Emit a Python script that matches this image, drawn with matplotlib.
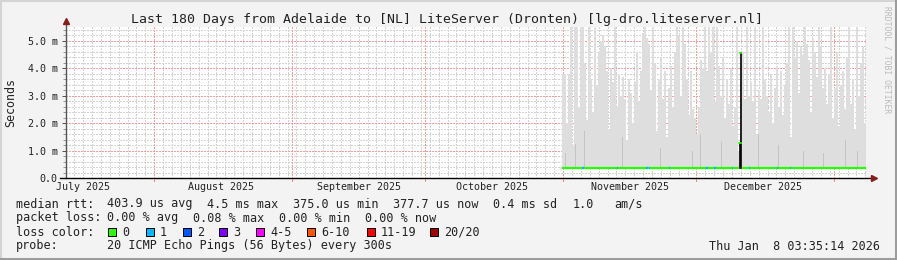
import numpy as np
import matplotlib
matplotlib.use('Agg')
from matplotlib import pyplot as plt
from matplotlib.lines import Line2D
from matplotlib.patches import Rectangle

plt.rcParams['font.family'] = ['DejaVu Sans Mono']

TITLE = 'Last 180 Days from Adelaide to [NL] LiteServer (Dronten) [lg-dro.liteserver.nl]'

# x is in days since 2025-07-01 00:00, y in milliseconds
view_start = 11.15
view_end = 191.15
month_starts = [31, 62, 92, 123, 153, 184]
month_label_days = [15, 46, 77, 107, 138, 168]
month_labels = ['July 2025', 'August 2025', 'September 2025', 'October 2025',
                'November 2025', 'December 2025']

y_max = 5.51
y_ticks = [0, 1, 2, 3, 4, 5]
y_tick_labels = ['0.0', '1.0 m', '2.0 m', '3.0 m', '4.0 m', '5.0 m']

# smoke (max ping per column)
smoke_start = 122.8
smoke_step = 0.45
smoke_floor_ms = 0.36
smoke_top_ms = [
    3.8, 3.8, 2.0, 3.8, 5.5, 1.2, 5.5, 5.5, 2.6, 5.5,
    5.5, 4.2, 2.1, 5.5, 3.6, 2.4, 5.5, 3.4, 4.6, 5.0,
    5.2, 4.8, 3.9, 1.8, 4.0, 3.5, 5.5, 2.6, 3.8, 3.0,
    3.7, 2.9, 1.4, 3.6, 3.1, 2.0, 3.5, 4.6, 2.8, 3.9,
    5.3, 5.5, 5.1, 4.9, 3.2, 5.5, 4.2, 1.7, 3.6, 4.4,
    2.9, 3.9, 1.5, 3.3, 4.1, 2.6, 4.6, 5.5, 5.2, 3.0,
    5.5, 4.9, 3.6, 2.3, 3.9, 2.5, 2.2, 1.6, 2.6, 4.3,
    4.0, 5.5, 3.9, 5.5, 4.6, 5.5, 2.8, 5.5, 4.1, 3.0,
    4.4, 2.2, 3.6, 2.7, 4.0, 1.9, 2.6, 5.5, 1.0, 3.5,
    4.6, 2.9, 5.5, 3.0, 3.5, 2.8, 5.5, 1.6, 3.2, 2.9,
    5.5, 3.6, 3.0, 2.4, 3.8, 2.0, 3.3, 4.1, 2.6, 3.9,
    2.3, 3.4, 4.2, 5.5, 1.5, 5.5, 4.4, 5.0, 3.1, 4.8,
    4.5, 5.5, 4.9, 4.3, 2.4, 5.1, 4.6, 3.7, 5.5, 4.8,
    3.3, 4.0, 2.7, 3.8, 5.5, 2.2, 3.3, 4.6, 1.9, 3.4,
    3.9, 2.5, 4.4, 5.5, 2.7, 3.6, 1.8, 5.5, 3.0, 4.2,
    4.8, 2.0,
]
dense_smoke_days = [123.5, 125.7, 127.8, 136.3, 144.9, 152.1, 153.9,
                    158.6, 166.9, 171.4, 177.0, 181.5, 186.5, 189.2]
dense_smoke_ms = [0.9, 1.25, 1.7, 1.5, 1.1, 1.0, 1.6,
                  1.3, 1.6, 1.2, 1.0, 0.9, 1.4, 1.0]

median_ms = 0.38
loss1_days = [127.5, 135.2, 141.9, 142.4, 146.9, 155.4, 157.2,
              161.1, 164.9, 171.2, 174.1]
spike_days = [162.8, 162.95]
spike_ms = [1.28, 4.56]

loss_labels = ['0', '1', '2', '3', '4-5', '6-10', '11-19', '20/20']
loss_colors = ['#26ff00', '#00b8ff', '#0059ff', '#7e00ff', '#ff00fe',
               '#ff5500', '#ff0000', '#a10000']
loss_box_px = [108, 146, 183, 219, 256, 307, 367, 430]

row1 = [(16, 'median rtt:'), (107, '403.9 us avg'), (207, '4.5 ms max'),
        (293, '375.0 us min'), (393, '377.7 us now'), (493, '0.4 ms sd'),
        (573, '1.0'), (614, 'am/s')]
row2 = [(16, 'packet loss:'), (107, '0.00 % avg'), (193, '0.08 % max'),
        (279, '0.00 % min'), (365, '0.00 % now')]
row4 = [(16, 'probe:'), (107, '20 ICMP Echo Pings (56 Bytes) every 300s')]
stamp = 'Thu Jan  8 03:35:14 2026'

W, H = 897, 260
fig = plt.figure(figsize=(W / 100, H / 100), dpi=100)
fig.patch.set_facecolor('#f3f3f3')

ax_l, ax_r, ax_t, ax_b = 66, 866, 27, 178
ax = fig.add_axes([ax_l / W, 1 - ax_b / H, (ax_r - ax_l) / W, (ax_b - ax_t) / H])
ax.set_facecolor('white')
ax.set_xlim(view_start, view_end)
ax.set_ylim(0, y_max)
for s in ax.spines.values():
    s.set_visible(False)

dot = (0, (1.4, 1.4))
# minor grid
for d in np.arange(13, view_end, 2):
    ax.axvline(d, color='#d4d4d4', lw=0.72, ls=dot, antialiased=False, zorder=1)
for v in np.arange(0.2, y_max, 0.2):
    ax.axhline(v, color='#d4d4d4', lw=0.72, ls=dot, antialiased=False, zorder=1)
# major grid
for d in month_starts:
    ax.axvline(d, color='#f4a0a0', lw=0.72, ls=dot, antialiased=False, zorder=1.5)
for v in y_ticks[1:]:
    ax.axhline(v, color='#f4a0a0', lw=0.72, ls=dot, antialiased=False, zorder=1.5)

# smoke
edges = smoke_start + smoke_step * np.arange(len(smoke_top_ms) + 1)
ax.stairs(smoke_top_ms, edges, baseline=smoke_floor_ms, fill=True,
          color='#dedede', lw=0, zorder=2)
ax.bar(dense_smoke_days, np.array(dense_smoke_ms) - smoke_floor_ms,
       bottom=smoke_floor_ms, width=0.25, color='#c4c4c4', lw=0, zorder=2.1)

# median line coloured by loss
ax.plot([smoke_start, view_end], [median_ms, median_ms], color=loss_colors[0],
        lw=1.6, solid_capstyle='butt', zorder=3)
for d in loss1_days:
    ax.plot([d - 0.15, d + 0.15], [median_ms, median_ms], color=loss_colors[1],
            lw=1.6, solid_capstyle='butt', zorder=3.1)
for d, v in zip(spike_days, spike_ms):
    ax.plot([d, d], [median_ms, v], color='black', lw=1.2, zorder=3.2)
    ax.plot([d - 0.12, d + 0.12], [v, v], color=loss_colors[0], lw=1.2, zorder=3.3)

# ticks
ax.set_yticks(y_ticks, y_tick_labels)
ax.set_yticks(np.arange(0.2, y_max, 0.2), minor=True)
ax.tick_params(axis='y', which='major', length=3, width=0.72, color='#555555',
               pad=3, labelsize=7.2, labelcolor='#222222')
ax.tick_params(axis='y', which='minor', length=2, width=0.72, color='#999999')
ax.set_xticks(month_label_days, month_labels)
ax.set_xticks([], minor=True)
ax.tick_params(axis='x', which='major', length=0, pad=3, labelsize=7.2,
               labelcolor='#222222')
for d in month_starts:
    ax.plot([d, d], [0, -2.5 / 27.4], color='#f08888', lw=0.72, clip_on=False)

# axes with arrows
ax.plot([0, 0], [0, 1 + 5 / 151], transform=ax.transAxes, color='#555555',
        lw=1.0, clip_on=False, zorder=5)
ax.plot([-6 / 800, 1 + 6 / 800], [0, 0], transform=ax.transAxes, color='black',
        lw=1.0, clip_on=False, zorder=5)
ax.plot([0], [1 + 6 / 151], transform=ax.transAxes, marker='^', ms=4.5,
        color='#8b1a1a', clip_on=False, zorder=6)
ax.plot([1 + 8 / 800], [0], transform=ax.transAxes, marker='>', ms=4.5,
        color='#8b1a1a', clip_on=False, zorder=6)

ax.set_ylabel('Seconds', fontsize=8.4, color='#222222')
ax.yaxis.set_label_coords(-49 / 800, 0.5)


def fx(px):
    return px / W


def fy(px):
    return 1 - px / H


fig.text(fx(447), fy(19), TITLE, ha='center', va='center', fontsize=9.55,
         color='#222222')
fig.text(fx(887), fy(6), 'RRDTOOL / TOBI OETIKER', rotation=270, ha='center',
         va='top', fontsize=5.8, color='#bbbbbb')

leg_fs = 8.5
for x, t in row1:
    fig.text(fx(x), fy(204), t, ha='left', va='center', fontsize=leg_fs, color='#222222')
for x, t in row2:
    fig.text(fx(x), fy(218), t, ha='left', va='center', fontsize=leg_fs, color='#222222')
fig.text(fx(16), fy(232), 'loss color:', ha='left', va='center', fontsize=leg_fs,
         color='#222222')
for x, lab, c in zip(loss_box_px, loss_labels, loss_colors):
    fig.patches.append(Rectangle((fx(x), fy(236)), 8 / W, 8 / H, transform=fig.transFigure,
                                 facecolor=c, edgecolor='black', lw=0.72))
    fig.text(fx(x + 14), fy(232), lab, ha='left', va='center', fontsize=leg_fs,
             color='#222222')
for x, t in row4:
    fig.text(fx(x), fy(246), t, ha='left', va='center', fontsize=leg_fs, color='#222222')
fig.text(fx(880), fy(246), stamp, ha='right', va='center', fontsize=leg_fs,
         color='#222222')

# canvas frame
fig.add_artist(Line2D([0, 1], [1 - 1 / H, 1 - 1 / H], color='#d4d4d4', lw=1.5,
                      transform=fig.transFigure))
fig.add_artist(Line2D([1 / W, 1 / W], [0, 1], color='#d4d4d4', lw=1.5,
                      transform=fig.transFigure))
fig.add_artist(Line2D([0, 1], [1.5 / H, 1.5 / H], color='#9c9c9c', lw=2.2,
                      transform=fig.transFigure))
fig.add_artist(Line2D([1 - 1.5 / W, 1 - 1.5 / W], [0, 1], color='#9c9c9c', lw=2.2,
                      transform=fig.transFigure))

fig.savefig('out.png', dpi=100, facecolor=fig.get_facecolor())
